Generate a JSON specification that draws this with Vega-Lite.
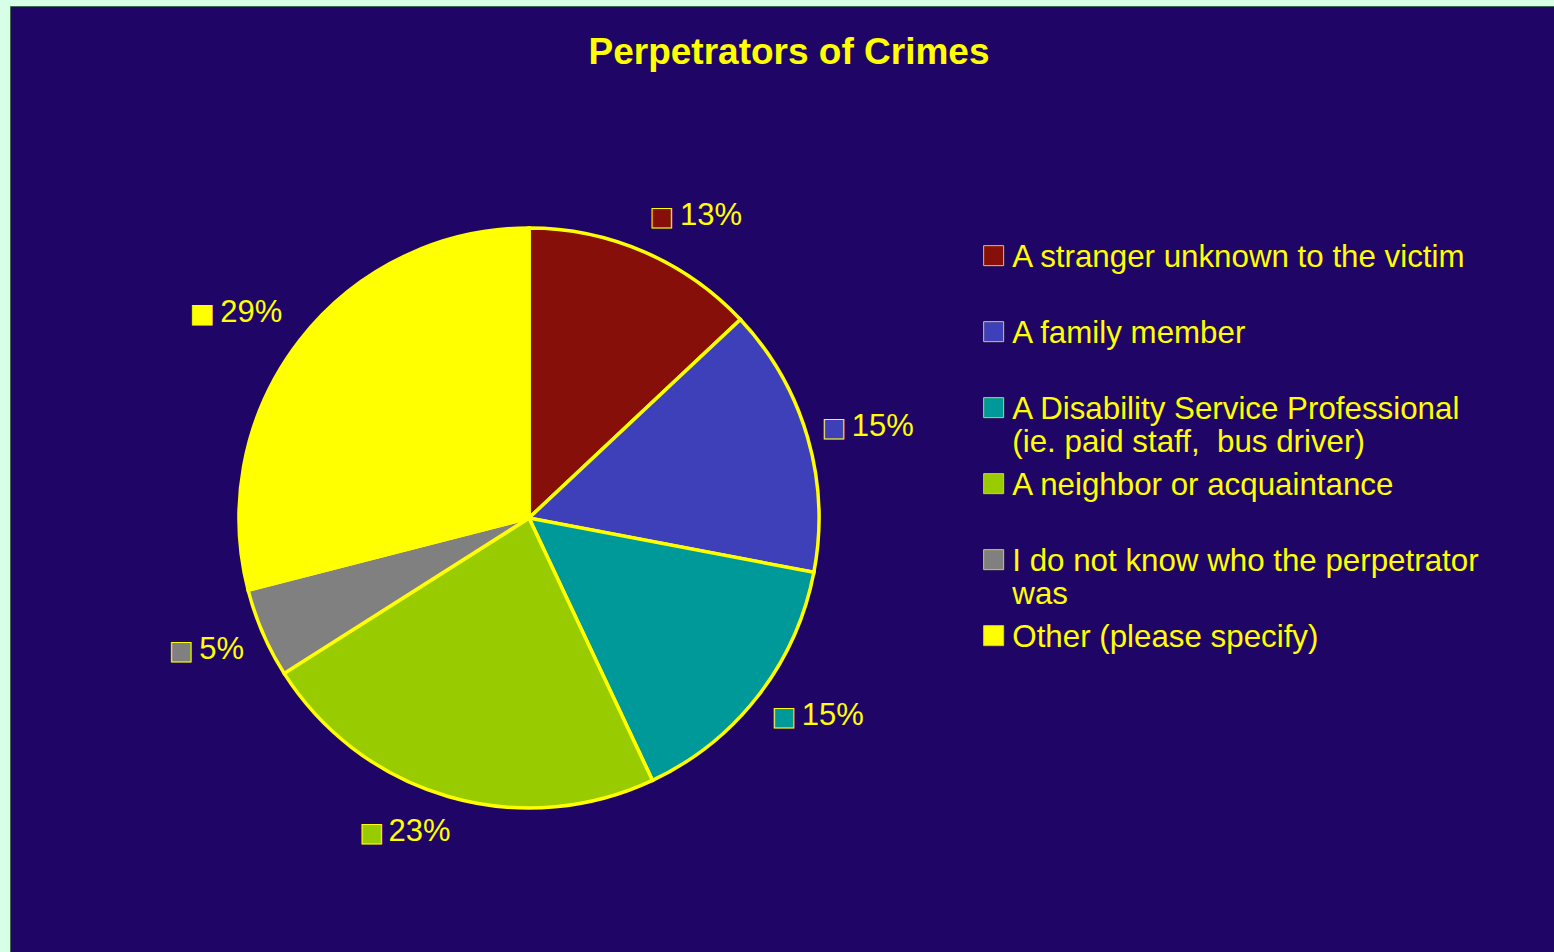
{
  "$schema": "https://vega.github.io/schema/vega-lite/v6.json",
  "width": 1554,
  "height": 952,
  "autosize": {"type": "fit", "contains": "padding"},
  "padding": {"left": 10, "top": 6, "right": 0, "bottom": 0},
  "background": "#D7FEE6",
  "config": {
    "view": {"fill": "#1F0566", "stroke": "#44684F", "strokeWidth": 1},
    "text": {"font": "Liberation Sans"}
  },
  "title": {
    "text": "Perpetrators of Crimes",
    "font": "Liberation Sans",
    "fontSize": 37,
    "fontWeight": "bold",
    "color": "#FFFF00",
    "anchor": "middle",
    "frame": "group",
    "offset": -66,
    "dx": 7
  },
  "data": {
    "values": [
      {"perpetrator": "A stranger unknown to the victim", "share": 0.13, "rank": 1},
      {"perpetrator": "A family member", "share": 0.15, "rank": 2},
      {"perpetrator": "A Disability Service Professional (ie. paid staff,  bus driver)", "share": 0.15, "rank": 3},
      {"perpetrator": "A neighbor or acquaintance", "share": 0.23, "rank": 4},
      {"perpetrator": "I do not know who the perpetrator was", "share": 0.05, "rank": 5},
      {"perpetrator": "Other (please specify)", "share": 0.29, "rank": 6}
    ]
  },
  "encoding": {
    "theta": {"field": "share", "type": "quantitative", "stack": true},
    "order": {"field": "rank", "type": "quantitative"},
    "detail": {"field": "perpetrator", "type": "nominal"},
    "x": {"value": 519},
    "y": {"value": 512}
  },
  "layer": [
    {
      "mark": {"type": "arc", "outerRadius": 290, "stroke": "#FFFF00", "strokeWidth": 3.5},
      "encoding": {
        "color": {
          "field": "perpetrator",
          "type": "nominal",
          "scale": {
            "domain": [
              "A stranger unknown to the victim",
              "A family member",
              "A Disability Service Professional (ie. paid staff,  bus driver)",
              "A neighbor or acquaintance",
              "I do not know who the perpetrator was",
              "Other (please specify)"
            ],
            "range": ["#870F0A", "#3D40B9", "#009999", "#99CC00", "#808080", "#FFFF00"]
          },
          "legend": {
            "orient": "none",
            "legendX": 968,
            "legendY": 234,
            "title": null,
            "padding": 0,
            "symbolType": "square",
            "symbolSize": 400,
            "symbolStrokeColor": "#D8D800",
            "symbolStrokeWidth": 1,
            "labelColor": "#FFFF00",
            "labelFont": "Liberation Sans",
            "labelFontSize": 31.3,
            "labelLimit": 800,
            "labelBaseline": "top",
            "labelLineHeight": 33,
            "labelOffset": 3,
            "rowPadding": 9,
            "labelExpr": "datum.label == 'A Disability Service Professional (ie. paid staff,  bus driver)' ? ['A Disability Service Professional', '(ie. paid staff,\u00a0 bus driver)'] : datum.label == 'I do not know who the perpetrator was' ? ['I do not know who the perpetrator', 'was'] : [datum.label, '']",
            "encode": {
              "labels": {"update": {"dy": {"value": -13.5}}},
              "symbols": {"update": {"stroke": {"value": "#D8D800"}, "strokeWidth": {"value": 1}}}
            }
          }
        }
      }
    },
    {
      "mark": {"type": "text", "radius": 306, "align": "left", "baseline": "middle", "dx": -1, "dy": -20, "font": "DejaVu Sans", "fontSize": 25.5, "stroke": "#FFFF00", "strokeWidth": 1},
      "encoding": {
        "color": {"field": "perpetrator", "type": "nominal", "legend": null},
        "text": {"condition": {"test": "datum.rank == 1", "value": "■"}, "value": ""}
      }
    },
    {
      "mark": {"type": "text", "radius": 306, "align": "left", "baseline": "middle", "dx": 29.5, "dy": -21, "fontSize": 31, "color": "#FFFF00"},
      "encoding": {
        "text": {"condition": {"test": "datum.rank == 1", "field": "share", "type": "quantitative", "format": ".0%"}, "value": ""}
      }
    },
    {
      "mark": {"type": "text", "radius": 306, "align": "left", "baseline": "middle", "dx": -1, "dy": -5, "font": "DejaVu Sans", "fontSize": 25.5, "stroke": "#FFFF00", "strokeWidth": 1},
      "encoding": {
        "color": {"field": "perpetrator", "type": "nominal", "legend": null},
        "text": {"condition": {"test": "datum.rank == 2", "value": "■"}, "value": ""}
      }
    },
    {
      "mark": {"type": "text", "radius": 306, "align": "left", "baseline": "middle", "dx": 29, "dy": -6, "fontSize": 31, "color": "#FFFF00"},
      "encoding": {
        "text": {"condition": {"test": "datum.rank == 2", "field": "share", "type": "quantitative", "format": ".0%"}, "value": ""}
      }
    },
    {
      "mark": {"type": "text", "radius": 306, "align": "left", "baseline": "middle", "dx": 1, "dy": 11, "font": "DejaVu Sans", "fontSize": 25.5, "stroke": "#FFFF00", "strokeWidth": 1},
      "encoding": {
        "color": {"field": "perpetrator", "type": "nominal", "legend": null},
        "text": {"condition": {"test": "datum.rank == 3", "value": "■"}, "value": ""}
      }
    },
    {
      "mark": {"type": "text", "radius": 306, "align": "left", "baseline": "middle", "dx": 31, "dy": 10, "fontSize": 31, "color": "#FFFF00"},
      "encoding": {
        "text": {"condition": {"test": "datum.rank == 3", "field": "share", "type": "quantitative", "format": ".0%"}, "value": ""}
      }
    },
    {
      "mark": {"type": "text", "radius": 306, "align": "right", "baseline": "middle", "dx": 7, "dy": 20, "fontSize": 31, "color": "#FFFF00"},
      "encoding": {
        "text": {"condition": {"test": "datum.rank == 4", "field": "share", "type": "quantitative", "format": ".0%"}, "value": ""}
      }
    },
    {
      "mark": {"type": "text", "radius": 306, "align": "right", "baseline": "middle", "dx": -60, "dy": 21, "font": "DejaVu Sans", "fontSize": 25.5, "stroke": "#FFFF00", "strokeWidth": 1},
      "encoding": {
        "color": {"field": "perpetrator", "type": "nominal", "legend": null},
        "text": {"condition": {"test": "datum.rank == 4", "value": "■"}, "value": ""}
      }
    },
    {
      "mark": {"type": "text", "radius": 306, "align": "right", "baseline": "middle", "dx": -4, "dy": 10, "fontSize": 31, "color": "#FFFF00"},
      "encoding": {
        "text": {"condition": {"test": "datum.rank == 5", "field": "share", "type": "quantitative", "format": ".0%"}, "value": ""}
      }
    },
    {
      "mark": {"type": "text", "radius": 306, "align": "right", "baseline": "middle", "dx": -55, "dy": 11, "font": "DejaVu Sans", "fontSize": 25.5, "stroke": "#FFFF00", "strokeWidth": 1},
      "encoding": {
        "color": {"field": "perpetrator", "type": "nominal", "legend": null},
        "text": {"condition": {"test": "datum.rank == 5", "value": "■"}, "value": ""}
      }
    },
    {
      "mark": {"type": "text", "radius": 306, "align": "right", "baseline": "middle", "dx": -5, "dy": -17, "fontSize": 31, "color": "#FFFF00"},
      "encoding": {
        "text": {"condition": {"test": "datum.rank == 6", "field": "share", "type": "quantitative", "format": ".0%"}, "value": ""}
      }
    },
    {
      "mark": {"type": "text", "radius": 306, "align": "right", "baseline": "middle", "dx": -73, "dy": -16, "font": "DejaVu Sans", "fontSize": 25.5, "stroke": "#FFFF00", "strokeWidth": 1},
      "encoding": {
        "color": {"field": "perpetrator", "type": "nominal", "legend": null},
        "text": {"condition": {"test": "datum.rank == 6", "value": "■"}, "value": ""}
      }
    }
  ]
}
